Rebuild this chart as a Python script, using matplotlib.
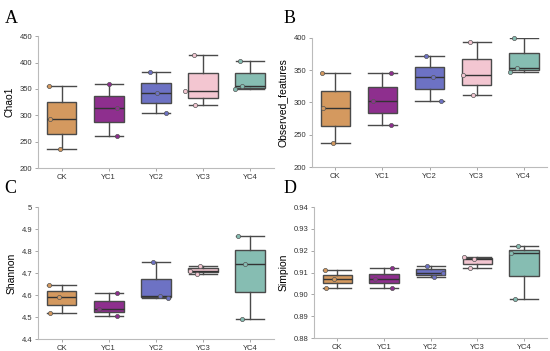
import numpy as np
import matplotlib.pyplot as plt

plt.rcParams['font.family'] = ['Liberation Sans', 'DejaVu Sans']

# ---------------- data (3 samples per group) ----------------
groups = ["CK", "YC1", "YC2", "YC3", "YC4"]
colors = ["#D4995F", "#8E2F8E", "#6D72C4", "#F3C6D1", "#86BDB2"]

chao1 = [[356, 294, 237], [359, 313, 261], [382, 342, 304],
         [414, 346, 320], [403, 356, 349]]
observed = [[346, 291, 237], [346, 303, 265], [372, 339, 302],
            [394, 342, 311], [400, 354, 347]]
shannon = [[4.646, 4.590, 4.518], [4.610, 4.538, 4.505], [4.752, 4.598, 4.587],
           [4.734, 4.710, 4.697], [4.868, 4.740, 4.490]]
simpson = [[0.911, 0.907, 0.903], [0.912, 0.907, 0.903], [0.913, 0.908, 0.910],
           [0.917, 0.916, 0.912], [0.922, 0.919, 0.898]]

# horizontal offsets of the points
jit_a = [[-0.27, -0.25, -0.04], [0.0, 0.17, 0.17], [-0.12, 0.03, 0.21],
         [-0.20, -0.38, -0.17], [-0.21, -0.17, -0.32]]
jit_b = [[-0.28, -0.26, -0.06], [0.18, -0.20, 0.18], [-0.07, 0.08, 0.25],
         [-0.15, -0.29, -0.08], [-0.20, -0.14, -0.29]]
jit_c = [[-0.27, -0.06, -0.25], [0.18, -0.20, 0.18], [-0.07, 0.08, 0.26],
         [-0.06, -0.27, -0.12], [-0.26, -0.11, -0.17]]
jit_d = [[-0.27, -0.07, -0.25], [0.18, -0.20, 0.18], [-0.07, 0.08, 0.26],
         [-0.29, -0.08, -0.15], [-0.13, -0.28, -0.20]]

panels = [
    ("A", "Chao1", chao1, jit_a, (200, 450), np.arange(200, 451, 50), "{:.0f}"),
    ("B", "Observed_features", observed, jit_b, (200, 400), np.arange(200, 401, 50), "{:.0f}"),
    ("C", "Shannon", shannon, jit_c, (4.4, 5.0), np.arange(4.4, 5.01, 0.1), "{:g}"),
    ("D", "Simpion", simpson, jit_d, (0.88, 0.94), np.arange(0.88, 0.941, 0.01), "{:.2f}"),
]

rects = [[0.069, 0.521, 0.429, 0.376],
         [0.567, 0.524, 0.428, 0.368],
         [0.069, 0.034, 0.429, 0.376],
         [0.571, 0.037, 0.424, 0.373]]
letter_pos = [(0.008, 0.935), (0.515, 0.935), (0.008, 0.45), (0.515, 0.45)]

edge = "#4a4a4a"
fig = plt.figure(figsize=(5.5, 3.51), dpi=100)

for (letter, ylab, data, jit, ylim, ticks, fmt), r, lp in zip(panels, rects, letter_pos):
    ax = fig.add_axes(r)
    pos = np.arange(len(groups))
    bp = ax.boxplot(data, positions=pos, widths=0.63, whis=(0, 100),
                    patch_artist=True, capwidths=0.6, showfliers=False,
                    medianprops=dict(color="#333333", lw=1.0),
                    whiskerprops=dict(color=edge, lw=1.0),
                    capprops=dict(color=edge, lw=1.0),
                    boxprops=dict(edgecolor=edge, lw=1.0))
    for patch, c in zip(bp["boxes"], colors):
        patch.set_facecolor(c)
    for i, (vals, js) in enumerate(zip(data, jit)):
        ax.scatter(i + np.array(js), vals, s=9, color=colors[i],
                   edgecolor="#555555", linewidth=0.5, zorder=3, clip_on=False)
    ax.set_xlim(-0.5, len(groups) - 0.5)
    ax.set_ylim(*ylim)
    ax.set_yticks(ticks)
    ax.set_yticklabels([fmt.format(t) for t in ticks])
    ax.set_xticks(pos)
    ax.set_xticklabels(groups)
    ax.tick_params(labelsize=5.5, colors="#999999", labelcolor="#333333",
                   length=2, width=0.6, pad=2)
    for s in ["top", "right"]:
        ax.spines[s].set_visible(False)
    for s in ["left", "bottom"]:
        ax.spines[s].set_color("#bbbbbb")
        ax.spines[s].set_linewidth(0.8)
    ax.set_ylabel(ylab, fontsize=7.5, labelpad=4)
    fig.text(lp[0], lp[1], letter, fontsize=13, family="Liberation Serif")

fig.savefig("out.png", dpi=100)
